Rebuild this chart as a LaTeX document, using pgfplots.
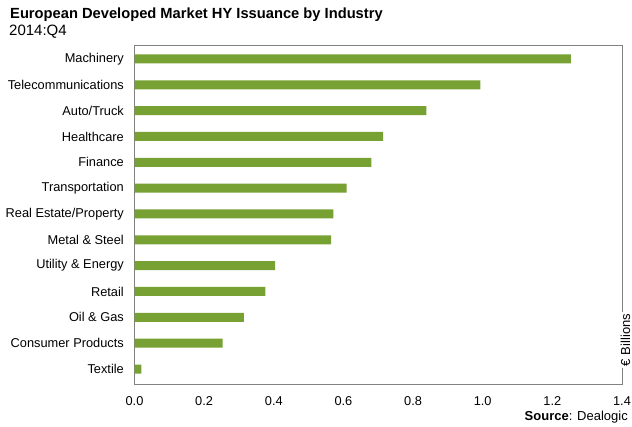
\documentclass[border=0pt]{standalone}
\usepackage{fontspec}
\setmainfont{Liberation Sans}
\usepackage{pgfplots}
\pgfplotsset{compat=1.18}
\definecolor{barg}{RGB}{119,161,50}
\definecolor{axg}{RGB}{130,130,130}
\begin{document}
\begin{tikzpicture}
\path[use as bounding box] (0,0) rectangle (632pt,426pt);
\begin{axis}[
  at={(134.5pt,42pt)}, anchor=south west,
  scale only axis, width=487.5pt, height=338pt,
  xmin=0, xmax=1.4, ymin=-0.58, ymax=12.5,
  xbar, bar width=9pt,
  xtick={0,0.2,...,1.4},
  ytick={0,...,12},
  yticklabels={Textile,Consumer Products,Oil \& Gas,Retail,Utility \& Energy,Metal \& Steel,Real Estate/Property,Transportation,Finance,Healthcare,Auto/Truck,Telecommunications,Machinery},
  major tick length=0pt,
  axis line style={axg, line width=1pt},
  tick label style={font=\fontsize{12.8}{15}\selectfont},
  /pgf/number format/assume math mode=true,
  xticklabel={\pgfmathprintnumber[fixed,fixed zerofill,precision=1]{\tick}},
  yticklabel style={inner sep=0pt, xshift=-10.5pt},
  xticklabel style={inner sep=0pt, yshift=-12pt},
  clip=false,
]
\addplot[fill=barg, draw=none] coordinates {
(0.020,0) (0.253,1) (0.314,2) (0.376,3) (0.404,4) (0.565,5) (0.571,6) (0.609,7) (0.680,8) (0.714,9) (0.838,10) (0.993,11) (1.253,12)};
\end{axis}
\node[anchor=base west, inner sep=0pt, font=\fontsize{14.7}{18}\selectfont\bfseries] at (10pt,407pt) {European Developed Market HY Issuance by Industry};
\node[anchor=base west, inner sep=0pt, font=\fontsize{15}{18}\selectfont] at (9pt,390pt) {2014:Q4};
\node[anchor=base east, inner sep=0pt, font=\fontsize{13}{15}\selectfont] at (628pt,6pt) {\textbf{Source}: Dealogic};
\node[rotate=90, fill=white, inner sep=2pt, font=\fontsize{13}{15}\selectfont] at (625.5pt,86pt) {€ Billions};
\end{tikzpicture}
\end{document}
